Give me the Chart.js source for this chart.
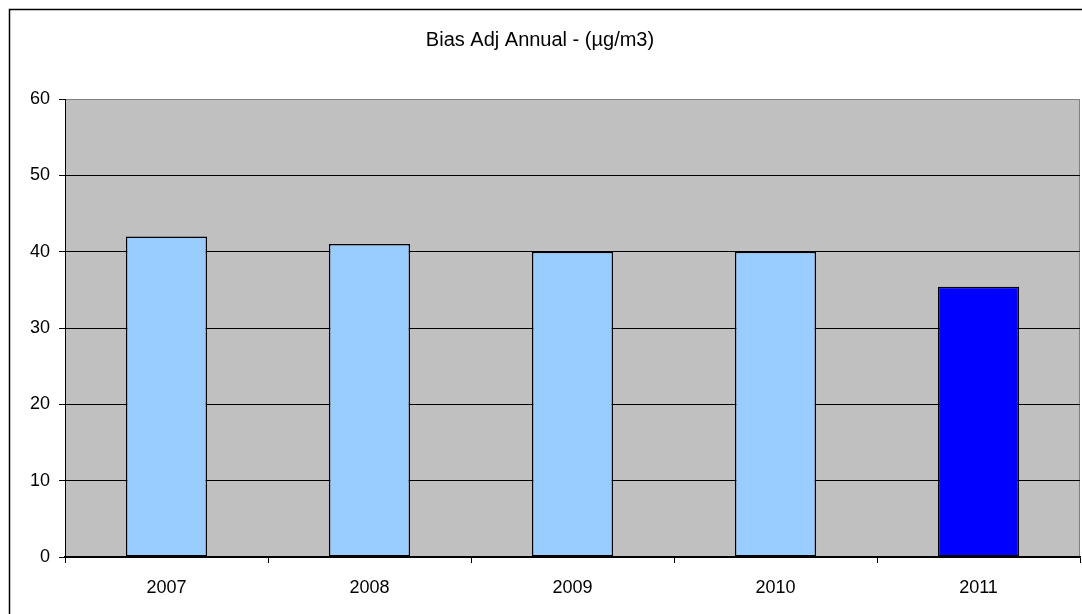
<!DOCTYPE html>
<html>
<head>
<meta charset="utf-8">
<script src="https://cdn.jsdelivr.net/npm/chart.js@4"></script>
<style>
    body { margin: 0; background: #fff; }
    #wrap { width: 1082px; height: 614px; position: relative; }
</style>
</head>
<body>
<div id="wrap"><canvas id="chart"></canvas></div>
<script>
// chart data
var years = ['2007', '2008', '2009', '2010', '2011'];
var biasAdjAnnual = [42, 41, 40, 40, 35.4];
var yTicks = [0, 10, 20, 30, 40, 50, 60];

var barColors = ['#99CCFF', '#99CCFF', '#99CCFF', '#99CCFF', '#0000FF'];
var fontFamily = '"Liberation Sans", Arial, sans-serif';

// white page, outer chart frame and grey plot area
var framePlugin = {
    id: 'frame',
    beforeDraw: function (chart) {
        var ctx = chart.ctx;
        var a = chart.chartArea;
        ctx.save();
        ctx.fillStyle = '#fff';
        ctx.fillRect(0, 0, chart.width, chart.height);
        ctx.strokeStyle = '#000';
        ctx.lineWidth = 1.5;
        ctx.strokeRect(9.5, 9.5, 1200, 800);
        ctx.fillStyle = '#C0C0C0';
        ctx.fillRect(a.left, a.top, a.right - a.left, a.bottom - a.top);
        ctx.strokeStyle = '#808080';
        ctx.lineWidth = 1;
        ctx.beginPath();
        ctx.moveTo(a.right - 0.5, a.top);
        ctx.lineTo(a.right - 0.5, a.bottom);
        ctx.stroke();
        ctx.restore();
    }
};

new Chart(document.getElementById('chart'), {
    type: 'bar',
    data: {
        labels: years,
        datasets: [{
            label: 'Bias Adj Annual',
            data: biasAdjAnnual,
            backgroundColor: barColors,
            borderColor: '#000',
            borderWidth: 1.5,
            borderSkipped: false,
            categoryPercentage: 1,
            barPercentage: 0.4
        }]
    },
    options: {
        responsive: true,
        maintainAspectRatio: false,
        animation: false,
        layout: { padding: { left: 0, right: 2, top: 0, bottom: 0 } },
        plugins: {
            legend: { display: false },
            tooltip: { enabled: false },
            title: {
                display: true,
                text: 'Bias Adj Annual - (µg/m3)',
                color: '#000',
                font: { family: fontFamily, size: 20, weight: 'normal' },
                padding: { top: 28, bottom: 47 }
            }
        },
        scales: {
            x: {
                afterFit: function (s) { s.height = 57; },
                grid: {
                    offset: true,
                    drawOnChartArea: false,
                    color: '#000',
                    tickLength: 6
                },
                border: { color: '#000', width: 1.5 },
                ticks: {
                    color: '#000',
                    padding: 14,
                    font: { family: fontFamily, size: 18 }
                }
            },
            y: {
                min: 0,
                max: 60,
                afterFit: function (s) { s.width = 65; },
                afterBuildTicks: function (s) {
                    s.ticks = yTicks.map(v => ({ value: v }));
                },
                grid: {
                    color: ctx => ctx.tick && ctx.tick.value === 60 ? '#808080' : '#000',
                    tickColor: '#000',
                    tickLength: 6,
                    lineWidth: 1
                },
                border: { color: '#000', width: 1 },
                ticks: {
                    color: '#000',
                    padding: 9,
                    font: { family: fontFamily, size: 18 }
                }
            }
        }
    },
    plugins: [framePlugin]
});
</script>
</body>
</html>
